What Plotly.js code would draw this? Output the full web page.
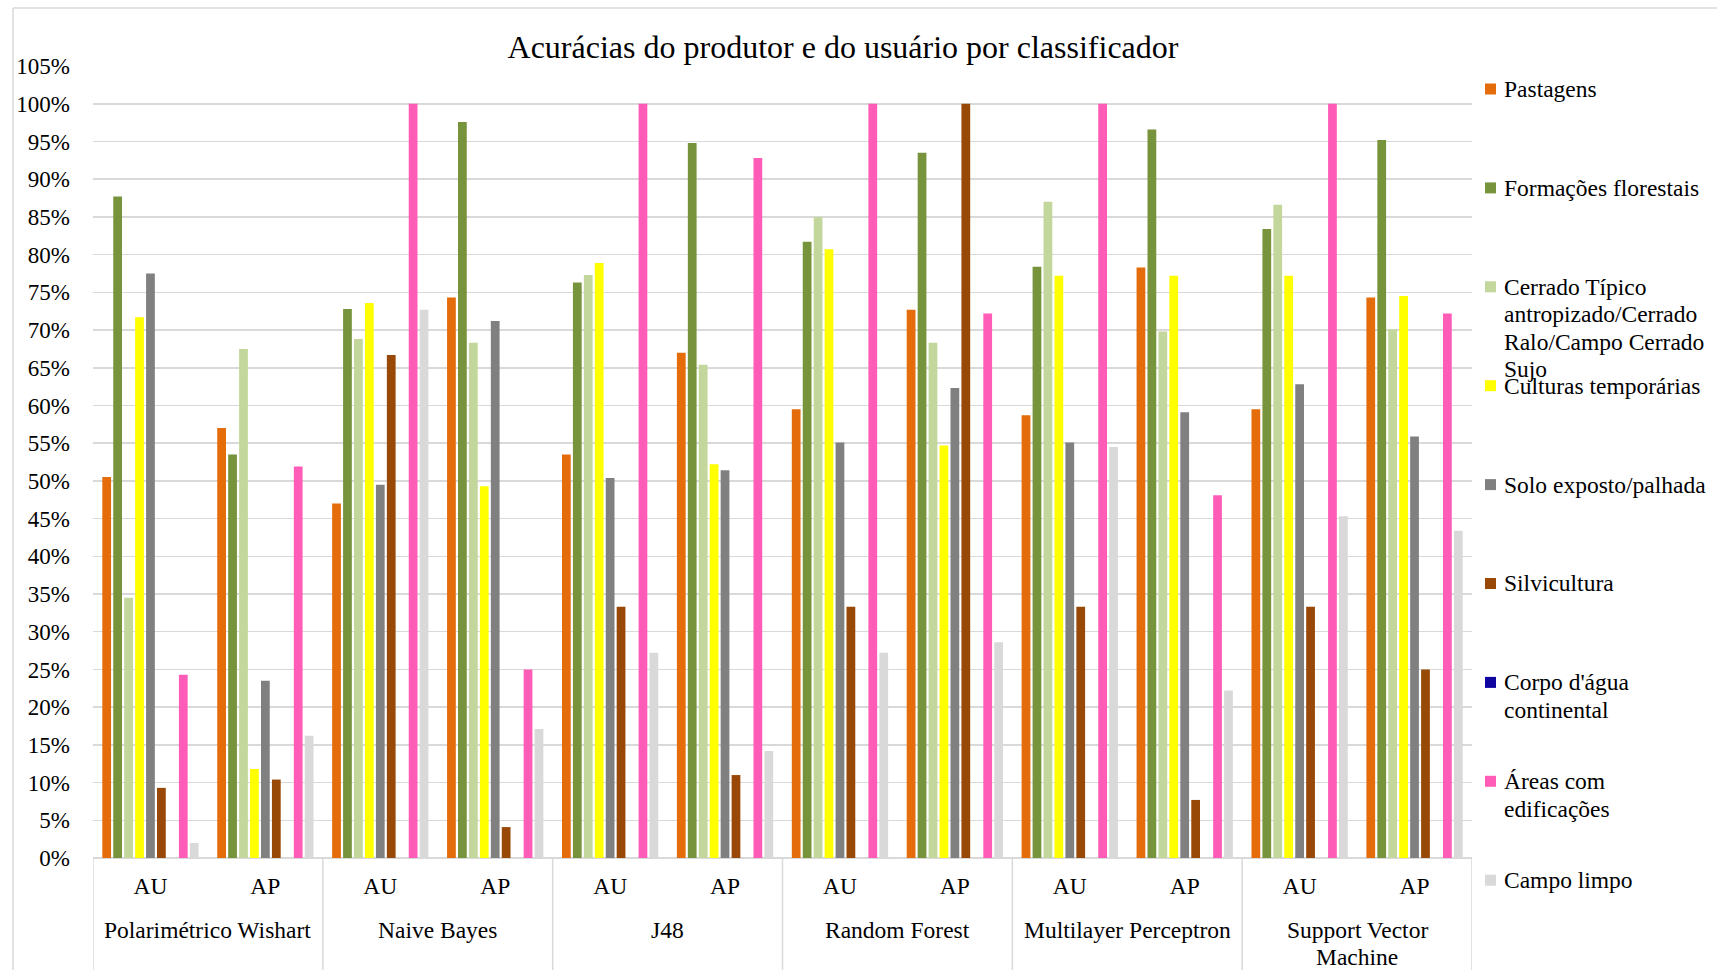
<!DOCTYPE html>
<html>
<head>
<meta charset="utf-8">
<script src="https://cdn.plot.ly/plotly-3.0.1.min.js"></script>
<style>
  html, body { margin: 0; padding: 0; background: #ffffff; }
  #chart { width: 1717px; height: 970px; }
</style>
</head>
<body>
<div id="chart"></div>
<script>
// ---- Data ----
const classifiers = ["Polarimétrico Wishart", "Naive Bayes", "J48", "Random Forest", "Multilayer Perceptron", "Support Vector<br>Machine"];
const accuracyTypes = ["AU", "AP"];
const seriesNames = [
  "Pastagens",
  "Formações florestais",
  "Cerrado Típico<br>antropizado/Cerrado<br>Ralo/Campo Cerrado<br>Sujo",
  "Culturas temporárias",
  "Solo exposto/palhada",
  "Silvicultura",
  "Corpo d'água<br>continental",
  "Áreas com<br>edificações",
  "Campo limpo"
];
const seriesColors = ["#E46C0A", "#77933C", "#C3D69B", "#FFFF00", "#808080", "#984807", "#10069F", "#FF5CB8", "#D9D9D9"];

const pastagens    = [0.505, 0.570, 0.470, 0.743, 0.535, 0.670, 0.595, 0.727, 0.587, 0.783, 0.595, 0.743];
const formacoes    = [0.877, 0.535, 0.728, 0.976, 0.763, 0.948, 0.817, 0.935, 0.784, 0.966, 0.834, 0.952];
const cerrado      = [0.345, 0.675, 0.688, 0.683, 0.773, 0.654, 0.850, 0.683, 0.870, 0.698, 0.866, 0.701];
const culturas     = [0.717, 0.118, 0.736, 0.493, 0.789, 0.522, 0.807, 0.547, 0.772, 0.772, 0.772, 0.745];
const solo         = [0.775, 0.235, 0.495, 0.712, 0.504, 0.514, 0.551, 0.623, 0.551, 0.591, 0.628, 0.559];
const silvicultura = [0.093, 0.104, 0.667, 0.041, 0.333, 0.110, 0.333, 1.000, 0.333, 0.077, 0.333, 0.250];
const corpoDagua   = [0, 0, 0, 0, 0, 0, 0, 0, 0, 0, 0, 0];
const areas        = [0.243, 0.519, 1.000, 0.250, 1.000, 0.928, 1.000, 0.722, 1.000, 0.481, 1.000, 0.722];
const campoLimpo   = [0.020, 0.162, 0.727, 0.171, 0.272, 0.142, 0.272, 0.286, 0.545, 0.222, 0.453, 0.434];

const seriesValues = [pastagens, formacoes, cerrado, culturas, solo, silvicultura, corpoDagua, areas, campoLimpo];

// ---- Layout geometry (pixels) ----
const W = 1717, H = 970;
const plotL = 93, plotR = 1472, plotT = 66, plotB = 858;
const pw = plotR - plotL, ph = plotB - plotT;
const px = x => (x - plotL) / pw;
const py = y => (plotB - y) / ph;

const FONT = "Liberation Serif, Times New Roman, serif";

const xPositions = [];
const xTickText = [];
classifiers.forEach((c, i) => accuracyTypes.forEach((t, j) => {
  xPositions.push(i * accuracyTypes.length + j);
  xTickText.push(t);
}));

const traces = seriesNames.map((name, k) => ({
  type: "bar",
  name: name,
  x: xPositions,
  y: seriesValues[k],
  marker: { color: seriesColors[k], line: { width: 0 } },
  hoverinfo: "name+y"
}));

const shapes = [];
const annotations = [];

// Category dividers below the axis
for (let i = 0; i <= classifiers.length; i++) {
  const xv = i * accuracyTypes.length - 0.5;
  shapes.push({
    type: "line", xref: "x", yref: "paper",
    x0: xv, x1: xv, y0: 0, y1: py(H + 5),
    line: { color: "#D9D9D9", width: 1.5 }
  });
}

// Classifier names (second level)
classifiers.forEach((c, i) => {
  const lines = c.split("<br>");
  lines.forEach((ln, li) => {
    annotations.push({
      xref: "x", yref: "paper",
      x: i * accuracyTypes.length + 0.5, y: py(930 + li * 27),
      text: ln, showarrow: false,
      xanchor: "center", yanchor: "middle",
      font: { family: FONT, size: 23.5, color: "#000000" }
    });
  });
});

// Custom legend
const legendTop = 89, legendStep = 98.9, lineStep = 27.4;
seriesNames.forEach((name, k) => {
  const yc = legendTop + k * legendStep;
  shapes.push({
    type: "rect", xref: "paper", yref: "paper",
    x0: px(1485), x1: px(1496), y0: py(yc - 5.5), y1: py(yc + 5.5),
    fillcolor: seriesColors[k], line: { width: 0 }
  });
  name.split("<br>").forEach((ln, li) => {
    annotations.push({
      xref: "paper", yref: "paper",
      x: px(1502), y: py(yc + li * lineStep),
      text: ln, showarrow: false,
      xanchor: "left", yanchor: "middle",
      font: { family: FONT, size: 23.5, color: "#000000" }
    });
  });
});

// Outer chart border (top and left)
shapes.push({
  type: "line", xref: "paper", yref: "paper",
  x0: px(13), x1: px(W + 5), y0: py(8), y1: py(8),
  line: { color: "#D9D9D9", width: 1.5 }
});
shapes.push({
  type: "line", xref: "paper", yref: "paper",
  x0: px(13), x1: px(13), y0: py(8), y1: py(H + 5),
  line: { color: "#D9D9D9", width: 1.5 }
});

const layout = {
  width: W, height: H,
  margin: { l: plotL, r: W - plotR, t: plotT, b: H - plotB, pad: 0 },
  paper_bgcolor: "#ffffff",
  plot_bgcolor: "#ffffff",
  showlegend: false,
  barmode: "group",
  bargap: 0.143,
  bargroupgap: 0.2,
  font: { family: FONT, size: 23.5, color: "#000000" },
  title: {
    text: "Acurácias do produtor e do usuário por classificador",
    font: { family: FONT, size: 32, color: "#000000" },
    xref: "paper", x: px(843), xanchor: "center",
    yref: "container", y: 1 - 47 / H, yanchor: "middle"
  },
  xaxis: {
    type: "linear",
    range: [-0.5, xPositions.length - 0.5],
    tickmode: "array",
    tickvals: xPositions,
    ticktext: xTickText,
    showgrid: false,
    zeroline: false,
    showline: false,
    ticks: "",
    ticklabelstandoff: 11,
    tickfont: { family: FONT, size: 23.5, color: "#000000" },
    fixedrange: true
  },
  yaxis: {
    range: [0, 1.0501],
    tickmode: "linear",
    tick0: 0,
    dtick: 0.05,
    tickformat: ".0%",
    showgrid: true,
    gridcolor: "#D9D9D9",
    gridwidth: 1.5,
    zeroline: true,
    zerolinecolor: "#D9D9D9",
    zerolinewidth: 1.5,
    showline: false,
    ticks: "",
    ticklabelstandoff: 22,
    tickfont: { family: FONT, size: 23, color: "#000000" },
    fixedrange: true
  },
  shapes: shapes,
  annotations: annotations
};

Plotly.newPlot("chart", traces, layout, { displayModeBar: false, staticPlot: true });
</script>
</body>
</html>
